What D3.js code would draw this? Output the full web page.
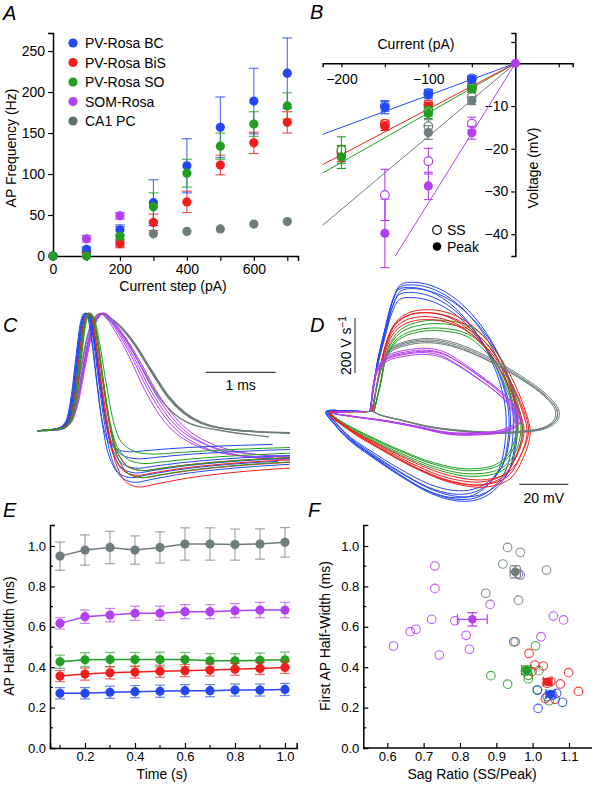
<!DOCTYPE html>
<html><head><meta charset="utf-8">
<script src="https://cdn.jsdelivr.net/npm/d3@7"></script>
<style>body{margin:0;background:#fff}svg{display:block}text{font-family:"Liberation Sans",Arial,sans-serif;fill:#000}</style>
</head><body><svg width="598" height="785"></svg>
<script>
const COL={bc:"#2347f2",bis:"#f31d1d",so:"#229e22",som:"#b23ff2",pc:"#6d7c7c"};

// ---------- Panel A data ----------
const stepsA=[0,100,200,300,400,500,600,700];
const freqBC=[0,8,32,65,110,157,189,223];
const errBC=[0,3,6,28,33,37,40,43];
const freqBiS=[0,3,15,41,66,111,138,163];
const errBiS=[0,2,5,10,13,12,13,13];
const freqSO=[0,0,24,60,101,134,161,183];
const errSO=[0,1,12,17,17,16,15,16];
const stepsSOM=[0,100,200];
const freqSOM=[0,21,49];
const errSOM=[0,4,4];
const freqPC=[0,4,19,27,30,33,39,42];
const errPC=[0,1,2,2,2,2,2,2];
const legendA=["PV-Rosa BC","PV-Rosa BiS","PV-Rosa SO","SOM-Rosa","CA1 PC"];
const ticksAx=[0,100,200,300,400,500,600,700];
const ticksAy=[0,50,100,150,200,250];

// ---------- Panel B data ----------
const currB=[-200,-150,-100,-50,0];
const peakBC=[null,-10.3,-7.3,-3.8,0], ssBC=[null,-10.0,-7.0,-3.5,0];
const ePkBC=[0,1.5,1.0,0.8,0], eSsBC=[0,1.2,0.9,0.6,0];
const peakBiS=[-21.5,-14.7,-10.0,-5.6,0], ssBiS=[-20.8,-14.2,-9.6,-5.3,0];
const ePkBiS=[1.5,1.0,0.8,0.6,0], eSsBiS=[1.4,0.9,0.8,0.5,0];
const peakSO=[-21.9,null,-11.7,-6.0,0], ssSO=[-20.3,null,-11.2,-5.7,0];
const ePkSO=[2.7,0,1.2,0.8,0], eSsSO=[3.1,0,1.1,0.7,0];
const peakPC=[null,null,-16.2,-8.75,0], ssPC=[null,null,-14.7,-7.8,0];
const ePkPC=[0,0,1.6,0.9,0], eSsPC=[0,0,1.5,0.9,0];
const peakSOM=[null,-39.8,-28.7,-16.25,0], ssSOM=[null,-30.8,-22.9,-14.1,0];
const ePkSOM=[0,8,3.2,1.5,0], eSsSOM=[0,6,3.0,1.5,0];
const slopeB=[0.075,0.107,0.116,0.171,0.327]; // fitted mV/pA for bc,bis,so,pc,som
const ticksBx=[-200,-150,-100,-50,50];
const ticksBy=[5,-10,-20,-30,-40];

// ---------- Panel C data (time ms, normalised voltage) ----------
const cBaseFast=[[0,0],[0.3,0.02],[0.42,0.08],[0.5,0.3],[0.57,0.65],[0.63,0.92],[0.69,1.0],[0.74,0.96],[0.8,0.75],[0.87,0.42],[0.94,0.12],[1.02,-0.14],[1.12,-0.3],[1.25,-0.38],[1.4,-0.4],[1.6,-0.38],[2.0,-0.34],[2.6,-0.3],[3.6,-0.26]];
const cBaseSOM=[[0,0],[0.3,0.01],[0.45,0.07],[0.55,0.24],[0.65,0.55],[0.75,0.83],[0.85,0.97],[0.93,1.0],[1.02,0.95],[1.13,0.86],[1.36,0.63],[1.6,0.35],[1.85,0.12],[2.08,-0.02],[2.32,-0.105],[2.79,-0.19],[3.6,-0.23]];
const cBasePC=[[0,0],[0.3,0.01],[0.45,0.07],[0.55,0.24],[0.65,0.55],[0.75,0.83],[0.85,0.97],[0.93,1.0],[1.03,0.96],[1.15,0.9],[1.36,0.75],[1.6,0.52],[1.85,0.29],[2.08,0.15],[2.32,0.066],[2.79,0.006],[3.6,-0.02]];
// per-trace [time shift, decay stretch, AHP scale]
const cVarBC=[[-0.02,0.95,1.0],[0,1.0,1.1],[0.01,1.04,0.8],[-0.01,0.92,0.45],[0.02,1.0,0.9],[0,1.08,0.6]];
const cVarBiS=[[0.03,1.05,1.2],[0.04,1.1,1.0],[0.03,1.0,0.95],[0.05,1.08,0.85]];
const cVarSO=[[0.05,1.1,0.85],[0.04,1.15,0.7],[0.05,1.3,0.5],[0.06,1.05,1.0]];
const cVarSOM=[[-0.02,0.92,1.0],[0,0.96,1.05],[0.01,1.0,0.95],[0.02,1.04,1.1],[0.03,1.08,1.0]];
const cVarPC=[[0,1.0,1.0],[0.01,1.02,0.9],[0.005,1.01,1.1],[-0.03,0.9,2.6]];

// ---------- Panel D data (mV, V/s) ----------
const dBC=[[-58.3,0],[-57.1,79],[-55.1,188],[-52.2,297],[-48.9,406],[-46.1,453],[-40,461],[-31.8,443],[-23.6,399],[-15.5,326],[-8.5,232],[-2.8,115],[0,0],[-0.4,-121],[-3.2,-219],[-9.3,-285],[-15.5,-314],[-23.6,-318],[-33.8,-292],[-46.1,-230],[-58.3,-157],[-66.5,-103],[-72.6,-45],[-75.9,0],[-68.5,3],[-60.4,0]];
const dBiS=[[-57.5,0],[-55.1,115],[-51.8,243],[-48.1,315],[-42,352],[-32.6,359],[-22.8,334],[-12.2,261],[-2.4,133],[3.7,6],[5.8,-74],[2.9,-165],[-2.4,-237],[-12.2,-266],[-25.7,-251],[-39.2,-204],[-54.3,-132],[-66.5,-67],[-74.7,-5],[-68.5,0],[-60,0]];
const dSO=[[-56.7,0],[-54.2,97],[-51,224],[-46.1,286],[-37.9,315],[-27.7,319],[-17.5,297],[-8.5,224],[-2,115],[2.1,6],[3.3,-67],[0.5,-157],[-5.3,-208],[-17.5,-226],[-31.8,-201],[-46.1,-150],[-59.6,-92],[-70.6,-37],[-74.7,-5],[-66.5,0],[-59,0]];
const dSOM=[[-57.9,0],[-57.1,90],[-55.1,159],[-51,199],[-44,217],[-35.5,224],[-28.9,213],[-21.6,177],[-13.4,126],[-6.5,79],[-1.2,32],[1.7,-19],[1.3,-48],[-5.3,-74],[-12.2,-81],[-25.7,-81],[-39.2,-56],[-52.2,-34],[-64.4,-19],[-73.4,-5],[-68.5,0],[-60,0]];
const dPC=[[-57,0],[-55.9,79],[-53.4,170],[-50.2,224],[-44,250],[-35.9,261],[-27.7,254],[-17.5,224],[-5.3,170],[4.9,115],[13.1,61],[18,6],[17.6,-30],[13.1,-59],[2.9,-74],[-9.3,-77],[-21.6,-70],[-33.8,-56],[-46.1,-30],[-54.2,-12],[-57,0]];
// per-trace [voltage scale, dV/dt scale]
const dVarBC=[[1,1],[0.97,0.94],[1.02,1.02],[0.98,0.9],[1.03,0.97],[0.95,0.98]];
const dVarBiS=[[1,1],[0.98,0.96],[1.02,1.03],[0.97,1.0],[1.01,0.93]];
const dVarSO=[[1,1],[0.98,0.95],[1.01,1.04],[0.97,0.92]];
const dVarSOM=[[1,1],[0.98,0.96],[1.01,1.03],[0.99,0.93],[1.02,0.98]];
const dVarPC=[[1,1],[0.99,0.98],[1.01,1.02],[1.0,0.96]];

// ---------- Panel E data ----------
const timeE=[0.1,0.2,0.3,0.4,0.5,0.6,0.7,0.8,0.9,1.0];
const hwPC=[0.950,0.980,0.993,0.980,0.993,1.010,1.010,1.007,1.010,1.018];
const ePC=[0.07,0.075,0.08,0.07,0.077,0.08,0.08,0.077,0.075,0.073];
const hwSOM=[0.617,0.650,0.658,0.667,0.667,0.675,0.675,0.680,0.683,0.683];
const eSOM=[0.028,0.033,0.033,0.035,0.035,0.035,0.035,0.035,0.038,0.038];
const hwSO=[0.427,0.437,0.438,0.438,0.438,0.438,0.432,0.432,0.434,0.437];
const eSO=[0.033,0.035,0.035,0.035,0.036,0.035,0.035,0.035,0.036,0.038];
const hwBiS=[0.356,0.366,0.372,0.376,0.380,0.383,0.386,0.390,0.394,0.399];
const eBiS=[0.028,0.03,0.03,0.03,0.03,0.03,0.03,0.03,0.03,0.03];
const hwBC=[0.271,0.271,0.276,0.279,0.281,0.284,0.284,0.287,0.287,0.290];
const eBC=[0.028,0.028,0.03,0.03,0.03,0.03,0.03,0.03,0.03,0.03];
const ticksEx=[0.2,0.4,0.6,0.8,1.0];
const ticksEy=[0,0.2,0.4,0.6,0.8,1.0];

// ---------- Panel F data (sag ratio, half-width) ----------
const fSOM=[[0.617,0.505],[0.663,0.576],[0.679,0.588],[0.722,0.637],[0.731,0.901],[0.731,0.79],[0.743,0.46],[0.786,0.63],[0.817,0.558],[0.826,0.489],[0.883,0.711],[1.023,0.551],[1.057,0.653],[1.085,0.634],[0.952,0.526],[0.961,0.862]];
const fPC=[[0.931,0.993],[0.966,0.969],[0.918,0.911],[1.038,0.881],[0.871,0.766],[0.961,0.732],[0.966,0.856]];
const fSO=[[0.885,0.358],[0.931,0.316],[0.948,0.526],[1.008,0.506],[1.017,0.383],[0.988,0.342],[0.988,0.36],[1.013,0.287],[1.045,0.234],[0.98,0.38]];
const fBiS=[[0.99,0.468],[1.006,0.411],[1.029,0.406],[0.998,0.378],[1.076,0.317],[1.099,0.373],[1.126,0.28],[1.035,0.246],[1.062,0.241],[1.04,0.32],[1.05,0.33]];
const fBC=[[1.013,0.287],[1.015,0.196],[1.082,0.226],[1.066,0.271],[1.04,0.254],[1.055,0.262]];
// means [sag, hw, sagErr, hwErr]
const fMeans={som:[0.834,0.637,0.041,0.033],pc:[0.952,0.872,0.014,0.03],so:[0.983,0.386,0.013,0.02],bis:[1.041,0.328,0.012,0.015],bc:[1.049,0.267,0.012,0.013]};
const ticksFx=[0.6,0.7,0.8,0.9,1.0,1.1];
const ticksFy=[0,0.2,0.4,0.6,0.8,1.0];

// ================= drawing =================
const svg=d3.select("svg");
const FS=14;
function styleAxis(g,fs){
  g.selectAll("path.domain").attr("stroke","#000").attr("stroke-width",1.5);
  g.selectAll(".tick line").attr("stroke","#000").attr("stroke-width",1.2);
  g.selectAll(".tick text").attr("font-size",fs||FS).attr("font-family","Liberation Sans, Arial, sans-serif").attr("fill","#000");
}
function letter(t,x,y){svg.append("text").attr("x",x).attr("y",y).attr("font-size",20).attr("font-style","italic").text(t);}
function txt(g,t,x,y,anchor,rot){const e=g.append("text").attr("font-size",FS).attr("text-anchor",anchor||"middle").text(t);
  if(rot){e.attr("transform",`translate(${x},${y}) rotate(${rot})`);}else{e.attr("x",x).attr("y",y);} return e;}
function vErr(g,x,yv0,yv1,col,cap,sw,op){
  g.append("line").attr("x1",x).attr("x2",x).attr("y1",yv0).attr("y2",yv1).attr("stroke",col).attr("stroke-width",sw||1.2).attr("opacity",op||1);
  [yv0,yv1].forEach(y=>g.append("line").attr("x1",x-cap).attr("x2",x+cap).attr("y1",y).attr("y2",y).attr("stroke",col).attr("stroke-width",sw||1.2).attr("opacity",op||1));
}
function hErr(g,y,xv0,xv1,col,cap,sw,op){
  g.append("line").attr("y1",y).attr("y2",y).attr("x1",xv0).attr("x2",xv1).attr("stroke",col).attr("stroke-width",sw||1.2).attr("opacity",op||1);
  [xv0,xv1].forEach(x=>g.append("line").attr("y1",y-cap).attr("y2",y+cap).attr("x1",x).attr("x2",x).attr("stroke",col).attr("stroke-width",sw||1.2).attr("opacity",op||1));
}

// ---------- A ----------
{
  const g=svg.append("g");
  const x=d3.scaleLinear([0,732],[53,298]);
  const y=d3.scaleLinear([0,272],[256,33]);
  const ax=g.append("g").attr("transform","translate(0,256)").call(d3.axisBottom(x).tickValues(ticksAx).tickFormat(d=>d%200===0?d:"").tickSizeOuter(0).tickSize(5));
  const ay=g.append("g").attr("transform","translate(53,0)").call(d3.axisLeft(y).tickValues(ticksAy).tickSizeOuter(0).tickSize(5));
  styleAxis(ax);styleAxis(ay);
  txt(g,"Current step (pA)",173,291);
  txt(g,"AP Frequency (Hz)",16,148,"middle",-90);
  const series=[[stepsA,freqPC,errPC,COL.pc],[stepsSOM,freqSOM,errSOM,COL.som],[stepsA,freqBiS,errBiS,COL.bis],[stepsA,freqBC,errBC,COL.bc],[stepsA,freqSO,errSO,COL.so]];
  series.forEach(([xs,ys,es,c])=>{
    xs.forEach((s,i)=>{ if(es[i]>2) vErr(g,x(s),y(ys[i]-es[i]),y(ys[i]+es[i]),c,5,1.1,0.8); });
  });
  series.forEach(([xs,ys,es,c])=>{
    g.selectAll(null).data(xs).enter().append("circle").attr("cx",d=>x(d)).attr("cy",(d,i)=>y(ys[i])).attr("r",4.6).attr("fill",c);
  });
  const lc=[COL.bc,COL.bis,COL.so,COL.som,"#5d6e6e"];
  legendA.forEach((l,i)=>{
    g.append("circle").attr("cx",73).attr("cy",43+i*19.5).attr("r",4.6).attr("fill",lc[i]);
    txt(g,l,85,48+i*19.5,"start");
  });
  letter("A",3,20);
}

// ---------- B ----------
{
  const g=svg.append("g");
  const x=d3.scaleLinear([-221.5,66],[322.7,572.7]);
  const y=d3.scaleLinear([7.1,-45.1],[33,256]);
  const ax=g.append("g").attr("transform",`translate(0,${y(0)})`).call(d3.axisBottom(x).tickValues(ticksBx).tickFormat(d=>(d===-200||d===-100)?"\u2212"+Math.abs(d):"").tickSizeOuter(0).tickSize(4));
  const ay=g.append("g").attr("transform",`translate(${x(0)},0)`).call(d3.axisLeft(y).tickValues(ticksBy).tickFormat(d=>d<0?"\u2212"+Math.abs(d):"").tickSizeOuter(0).tickSize(4));
  styleAxis(ax);styleAxis(ay);
  ax.selectAll(".tick text").attr("dy","0.95em");
  txt(g,"Current (pA)",416,49);
  txt(g,"Voltage (mV)",538,168,"middle",-90);
  const groups=[[slopeB[3],COL.pc],[slopeB[4],COL.som],[slopeB[2],COL.so],[slopeB[1],COL.bis],[slopeB[0],COL.bc]];
  groups.forEach(([s,c])=>{
    const xEnd=Math.max(-221.5,-45.1/s);
    g.append("line").attr("x1",x(0)).attr("y1",y(0)).attr("x2",x(xEnd)).attr("y2",y(s*xEnd)).attr("stroke",c).attr("stroke-width",1);
  });
  const mk=[[peakPC,ssPC,ePkPC,eSsPC,COL.pc],[peakSOM,ssSOM,ePkSOM,eSsSOM,COL.som],[peakBiS,ssBiS,ePkBiS,eSsBiS,COL.bis],[peakSO,ssSO,ePkSO,eSsSO,COL.so],[peakBC,ssBC,ePkBC,eSsBC,COL.bc]];
  mk.forEach(([pk,ss,ep,es,c])=>{
    currB.forEach((cu,i)=>{
      if(cu===0) return;
      if(ss[i]!==null){ vErr(g,x(cu),y(ss[i]+es[i]),y(ss[i]-es[i]),c,4.5,1.1);
        g.append("circle").attr("cx",x(cu)).attr("cy",y(ss[i])).attr("r",4.3).attr("fill","#fff").attr("stroke",c).attr("stroke-width",1.2);}
      if(pk[i]!==null){ vErr(g,x(cu),y(pk[i]+ep[i]),y(pk[i]-ep[i]),c,4.5,1.1);
        g.append("circle").attr("cx",x(cu)).attr("cy",y(pk[i])).attr("r",4.6).attr("fill",c);}
    });
  });
  g.append("circle").attr("cx",x(0)).attr("cy",y(0)).attr("r",4.6).attr("fill",COL.som);
  g.append("circle").attr("cx",437).attr("cy",230).attr("r",4.3).attr("fill","#fff").attr("stroke","#000").attr("stroke-width",1.2);
  txt(g,"SS",447,235,"start");
  g.append("circle").attr("cx",437).attr("cy",246.5).attr("r",4.3).attr("fill","#000");
  txt(g,"Peak",447,251.5,"start");
  letter("B",310,19);
}

// ---------- C ----------
{
  const g=svg.append("g");
  const x=d3.scaleLinear([0,1],[37.7,107.7]);
  const y=d3.scaleLinear([0,1],[430.7,313.3]);
  svg.append("clipPath").attr("id","clipC").append("rect").attr("x",36).attr("y",300).attr("width",254).attr("height",200);
  const gc=g.append("g").attr("clip-path","url(#clipC)");
  const line=d3.line().x(d=>x(d[0])).y(d=>y(d[1])).curve(d3.curveMonotoneX);
  function tr(base,p){
    const tp=base.reduce((a,b)=>b[1]>a[1]?b:a)[0];
    return base.map(([t,v])=>{
      if(t<0.25) return [t,v];
      const tt=t<=tp?t+p[0]:tp+p[0]+(t-tp)*p[1];
      return [tt,v<0?v*p[2]:v];
    });
  }
  const sets=[[cBasePC,cVarPC,COL.pc,1.3],[cBaseSOM,cVarSOM,COL.som,1],[cBaseFast,cVarBC,COL.bc,1],[cBaseFast,cVarBiS,COL.bis,1],[cBaseFast,cVarSO,COL.so,1]];
  sets.forEach(([b,vs,c,w])=>vs.forEach(p=>gc.append("path").attr("d",line(tr(b,p))).attr("fill","none").attr("stroke",c).attr("stroke-width",w)));
  g.append("line").attr("x1",x(2.4)).attr("x2",x(3.4)).attr("y1",372.3).attr("y2",372.3).attr("stroke","#444").attr("stroke-width",1.2);
  txt(g,"1 ms",x(2.9),390);
  letter("C",3,332);
}

// ---------- D ----------
{
  const g=svg.append("g");
  const x=d3.scaleLinear([-76,0],[326.7,326.7+76*2.45]);
  const y=d3.scaleLinear([0,200],[411.7,356.7]);
  const line=d3.line().x(d=>x(d[0])).y(d=>y(d[1])).curve(d3.curveCatmullRom.alpha(0.5));
  function tr(base,p){const v0=base[0][0];return base.map(([v,r])=>[v0+(v-v0)*p[0],r*p[1]]);}
  const sets=[[dBC,dVarBC,COL.bc],[dSO,dVarSO,COL.so],[dBiS,dVarBiS,COL.bis],[dPC,dVarPC,COL.pc],[dSOM,dVarSOM,COL.som]];
  sets.forEach(([b,vs,c])=>vs.forEach(p=>g.append("path").attr("d",line(tr(b,p))).attr("fill","none").attr("stroke",c).attr("stroke-width",1)));
  const barTop=318;
  g.append("line").attr("x1",355).attr("x2",355).attr("y1",barTop).attr("y2",barTop+(y(0)-y(200))).attr("stroke","#444").attr("stroke-width",1.2);
  const t=g.append("text").attr("font-size",FS).attr("text-anchor","middle").attr("transform",`translate(351,${barTop+(y(0)-y(200))/2}) rotate(-90)`);
  t.append("tspan").text("200 V s");
  t.append("tspan").attr("dy",-5).attr("font-size",10).text("\u22121");
  const bx0=519.3;
  g.append("line").attr("x1",bx0).attr("x2",bx0+(x(20)-x(0))).attr("y1",484.3).attr("y2",484.3).attr("stroke","#444").attr("stroke-width",1.2);
  txt(g,"20 mV",bx0+(x(20)-x(0))/2,503);
  letter("D",310,332);
}

// ---------- E ----------
{
  const g=svg.append("g");
  const x=d3.scaleLinear([0.06,1.047],[50,296.7]);
  const y=d3.scaleLinear([0,1.104],[748,525]);
  const ax=g.append("g").attr("transform","translate(0,748)").call(d3.axisBottom(x).tickValues(ticksEx).tickFormat(d3.format(".1f")).tickSizeOuter(0).tickSize(-5).tickPadding(4));
  const ay=g.append("g").attr("transform","translate(50,0)").call(d3.axisLeft(y).tickValues(ticksEy).tickFormat(d3.format(".1f")).tickSizeOuter(0).tickSize(-5).tickPadding(4));
  [0.1,0.3,0.5,0.7,0.9].forEach(v=>ax.append("line").attr("x1",x(v)).attr("x2",x(v)).attr("y1",0).attr("y2",-3).attr("stroke","#000").attr("stroke-width",1.2));
  [0.1,0.3,0.5,0.7,0.9].forEach(v=>ay.append("line").attr("y1",y(v)).attr("y2",y(v)).attr("x1",0).attr("x2",3).attr("stroke","#000").attr("stroke-width",1.2));
  styleAxis(ax,13);styleAxis(ay,13);
  txt(g,"Time (s)",162,779);
  txt(g,"AP Half-Width (ms)",14,636,"middle",-90);
  const series=[[hwPC,ePC,COL.pc],[hwSOM,eSOM,COL.som],[hwSO,eSO,COL.so],[hwBiS,eBiS,COL.bis],[hwBC,eBC,COL.bc]];
  const ln=d3.line().x((d,i)=>x(timeE[i])).y(d=>y(d));
  series.forEach(([v,e,c])=>{
    timeE.forEach((t,i)=>vErr(g,x(t),y(v[i]-e[i]),y(v[i]+e[i]),c,5,1.2,0.65));
    g.append("path").attr("d",ln(v)).attr("fill","none").attr("stroke",c).attr("stroke-width",1.5);
    g.selectAll(null).data(v).enter().append("circle").attr("cx",(d,i)=>x(timeE[i])).attr("cy",d=>y(d)).attr("r",4.6).attr("fill",c);
  });
  letter("E",3,517);
}

// ---------- F ----------
{
  const g=svg.append("g");
  const x=d3.scaleLinear([0.6,1.1],[387.3,569]);
  const y=d3.scaleLinear([0,1.104],[748,525]);
  const ax=g.append("g").attr("transform","translate(0,748)").call(d3.axisBottom(x).tickValues(ticksFx).tickFormat(d3.format(".1f")).tickSizeOuter(0).tickSize(-5).tickPadding(4));
  const ay=g.append("g").attr("transform","translate(363.3,0)").call(d3.axisLeft(y).tickValues(ticksFy).tickFormat(d3.format(".1f")).tickSizeOuter(0).tickSize(-5).tickPadding(4));
  ax.select("path.domain").attr("d","M363.3,0H592");
  [0.1,0.3,0.5,0.7,0.9].forEach(v=>ay.append("line").attr("y1",y(v)).attr("y2",y(v)).attr("x1",0).attr("x2",3).attr("stroke","#000").attr("stroke-width",1.2));
  styleAxis(ax,13);styleAxis(ay,13);
  txt(g,"Sag Ratio (SS/Peak)",472,779);
  txt(g,"First AP Half-Width (ms)",330,636,"middle",-90);
  const sets=[[fSOM,COL.som],[fPC,COL.pc],[fSO,COL.so],[fBiS,COL.bis],[fBC,COL.bc]];
  sets.forEach(([pts,c])=>g.selectAll(null).data(pts).enter().append("circle").attr("cx",d=>x(d[0])).attr("cy",d=>y(d[1])).attr("r",4.3).attr("fill","none").attr("stroke",c).attr("stroke-width",1.1).attr("opacity",0.85));
  [["som",COL.som],["pc",COL.pc],["so",COL.so],["bis",COL.bis],["bc",COL.bc]].forEach(([k,c])=>{
    const [s,h,se,he]=fMeans[k];
    vErr(g,x(s),y(h-he),y(h+he),c,5,1.2);
    hErr(g,y(h),x(s-se),x(s+se),c,5,1.2);
    g.append("circle").attr("cx",x(s)).attr("cy",y(h)).attr("r",4.3).attr("fill",c);
  });
  letter("F",308,517);
}
</script></body></html>
